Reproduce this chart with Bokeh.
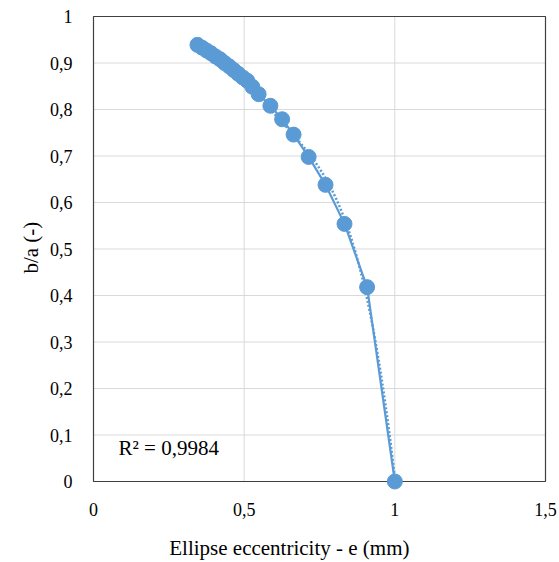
import math
import numpy as np
from bokeh.plotting import figure
from bokeh.models import Range1d, ColumnDataSource
from bokeh.core.properties import value
from bokeh.embed import file_html
from bokeh.resources import INLINE

# data
e_vals = [0.345, 0.36, 0.375, 0.39, 0.405, 0.42, 0.435, 0.45, 0.465, 0.48, 0.495, 0.51,
          0.527, 0.548, 0.587, 0.626, 0.664, 0.714, 0.770, 0.833, 0.908, 1.0]
ba_vals = [0.939, 0.933, 0.927, 0.921, 0.914, 0.908, 0.900, 0.893, 0.885, 0.877, 0.869, 0.862,
           0.849, 0.833, 0.808, 0.779, 0.746, 0.698, 0.638, 0.554, 0.418, 0.0]

x_ticks = [0, 0.5, 1, 1.5]
x_labels = ["0", "0,5", "1", "1,5"]
y_ticks = [0, 0.1, 0.2, 0.3, 0.4, 0.5, 0.6, 0.7, 0.8, 0.9, 1.0]
y_labels = ["0", "0,1", "0,2", "0,3", "0,4", "0,5", "0,6", "0,7", "0,8", "0,9", "1"]
x_title = "Ellipse eccentricity - e (mm)"
y_title = "b/a (-)"
r2_text = "R² = 0,9984"

# layout (pixels)
W, H = 559, 562
PLOT_L, PLOT_R, PLOT_T, PLOT_B = 93, 545, 16, 481

FONT = value("Times New Roman")
BLUE = "#5b9bd5"

x0, x1 = x_ticks[0], x_ticks[-1]
y0, y1 = y_ticks[0], y_ticks[-1]
sx = (PLOT_R - PLOT_L) / (x1 - x0)
sy = (PLOT_B - PLOT_T) / (y1 - y0)
xr = Range1d(x0 - PLOT_L / sx, x1 + (W - PLOT_R) / sx)
yr = Range1d(y0 - (H - PLOT_B) / sy, y1 + PLOT_T / sy)

p = figure(width=W, height=H, x_range=xr, y_range=yr,
           output_backend="svg", toolbar_location=None,
           min_border=0, min_border_left=0, min_border_right=0,
           min_border_top=0, min_border_bottom=0)
p.background_fill_color = "white"
p.border_fill_color = "white"
p.outline_line_color = None
p.axis.visible = False
p.grid.visible = False

# gridlines
hy = [t for t in y_ticks[1:-1]]
p.segment(x0=[x0] * len(hy), x1=[x1] * len(hy), y0=hy, y1=hy,
          line_color="#d9d9d9", line_width=1)
vx = [t for t in x_ticks[1:-1]]
p.segment(x0=vx, x1=vx, y0=[y0] * len(vx), y1=[y1] * len(vx),
          line_color="#d9d9d9", line_width=1)
# plot box
p.quad(left=[x0], right=[x1], bottom=[y0], top=[y1], fill_color=None,
       line_color="#3f3f3f", line_width=1.2)

# tick labels
p.text(x=x_ticks, y=[y0] * len(x_ticks), text=x_labels, y_offset=28,
       text_align="center", text_baseline="middle", text_font=FONT,
       text_font_size="18px", text_color="#000000")
p.text(x=[x0] * len(y_ticks), y=y_ticks, text=y_labels, x_offset=-21,
       text_align="right", text_baseline="middle", text_font=FONT,
       text_font_size="18px", text_color="#000000")

# axis titles
p.text(x=[0.65], y=[y0], text=[x_title], y_offset=66, text_align="center",
       text_baseline="middle", text_font=FONT, text_font_size="21px", text_color="#000000")
p.text(x=[x0], y=[0.503], text=[y_title], x_offset=-63, angle=math.pi / 2,
       text_align="center", text_baseline="middle", text_font=FONT,
       text_font_size="21px", text_color="#000000")

src = ColumnDataSource(dict(x=e_vals, y=ba_vals))

# polynomial trendline (dotted)
coef = np.polyfit(e_vals, ba_vals, 4)
xt = np.linspace(min(e_vals), max(e_vals), 200)
yt = np.polyval(coef, xt)
p.line(xt, yt, line_color=BLUE, line_width=2.5, line_dash="2 2")

p.line("x", "y", source=src, line_color=BLUE, line_width=2.2)
p.scatter("x", "y", source=src, size=15, fill_color=BLUE, line_color=BLUE)

p.text(x=[0.083], y=[0.073], text=[r2_text], text_font=FONT, text_font_size="21px",
       text_color="#000000", text_baseline="middle")

open("out.html", "w").write(file_html(p, INLINE))
